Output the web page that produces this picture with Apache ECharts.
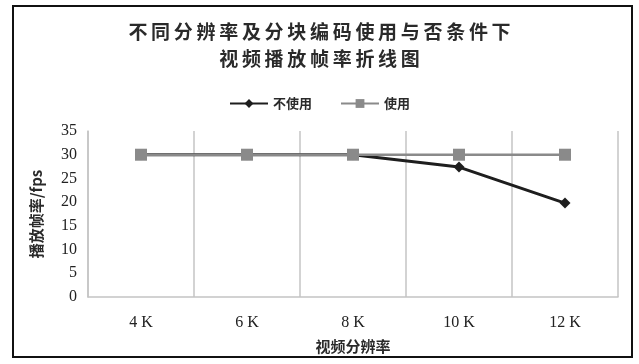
<!DOCTYPE html>
<html>
<head>
<meta charset="utf-8">
<script src="https://cdn.jsdelivr.net/npm/echarts@6/dist/echarts.min.js"></script>
<style>
html,body{margin:0;padding:0;background:#fff;}
#frame{position:absolute;left:12px;top:5px;width:621px;height:353px;border:2px solid #111;box-sizing:border-box;}
#chart{position:absolute;left:0;top:0;width:639px;height:364px;}
</style>
</head>
<body>
<div id="frame"></div>
<div id="chart"></div>
<script>
// Resolution categories and frame rates (fps) with/without tiled encoding
const categories = ['4 K', '6 K', '8 K', '10 K', '12 K'];
const withoutTiling = [30, 30, 30, 27.4, 19.8];
const withTiling = [30, 30, 30, 30, 30];
const yTicks = { min: 0, max: 35, interval: 5 };
const titleLines = ['不同分辨率及分块编码使用与否条件下', '视频播放帧率折线图'];

const cjk = '"Noto Sans CJK SC", "Noto Sans", sans-serif';
const serif = '"Liberation Serif", "DejaVu Serif", serif';

// Spread title characters evenly: each glyph gets a fixed-width rich fragment
const spaced = line => Array.from(line).map(ch => '{c|' + ch + '}').join('');

const chart = echarts.init(document.getElementById('chart'), null, { renderer: 'canvas' });
chart.setOption({
  backgroundColor: 'transparent',
  animation: false,
  title: {
    text: titleLines.map(spaced).join('\n'),
    left: 'center',
    top: 13,
    textStyle: {
      rich: {
        c: { fontFamily: cjk, fontSize: 19, fontWeight: 'bold', color: '#2a2a2a',
             width: 22.7, align: 'center', lineHeight: 27 }
      }
    }
  },
  legend: {
    top: 92,
    left: 'center',
    itemGap: 28,
    itemWidth: 38,
    itemHeight: 11,
    textStyle: { fontFamily: cjk, fontSize: 13, fontWeight: 'bold', color: '#2a2a2a' },
    data: ['不使用', '使用']
  },
  grid: { left: 88, right: 21, top: 131, bottom: 67 },
  xAxis: {
    type: 'category',
    data: categories,
    boundaryGap: true,
    name: '视频分辨率',
    nameLocation: 'middle',
    nameGap: 42,
    nameTextStyle: { fontFamily: cjk, fontSize: 15, fontWeight: 'bold', color: '#2a2a2a' },
    axisLine: { lineStyle: { color: '#c4c4c4', width: 1.5 } },
    axisTick: { show: false },
    axisLabel: { fontFamily: serif, fontSize: 16, color: '#222', margin: 18 },
    splitLine: { show: true, lineStyle: { color: '#c4c4c4', width: 1.5 } }
  },
  yAxis: {
    type: 'value',
    min: yTicks.min,
    max: yTicks.max,
    interval: yTicks.interval,
    name: '播放帧率/fps',
    nameLocation: 'middle',
    nameGap: 44,
    nameTextStyle: { fontFamily: cjk, fontSize: 15, fontWeight: 'bold', color: '#2a2a2a' },
    axisLine: { show: true, lineStyle: { color: '#c4c4c4', width: 1.5 } },
    axisTick: { show: false },
    axisLabel: { fontFamily: serif, fontSize: 16, color: '#222', margin: 11 },
    splitLine: { show: false }
  },
  series: [
    {
      name: '不使用',
      type: 'line',
      data: withoutTiling,
      symbol: 'diamond',
      symbolSize: 11,
      lineStyle: { color: '#1e1e1e', width: 3 },
      itemStyle: { color: '#1e1e1e' },
      z: 2
    },
    {
      name: '使用',
      type: 'line',
      data: withTiling,
      symbol: 'rect',
      symbolSize: 12,
      lineStyle: { color: '#8a8a8a', width: 2.5 },
      itemStyle: { color: '#8a8a8a' },
      z: 3
    }
  ]
});
</script>
</body>
</html>
